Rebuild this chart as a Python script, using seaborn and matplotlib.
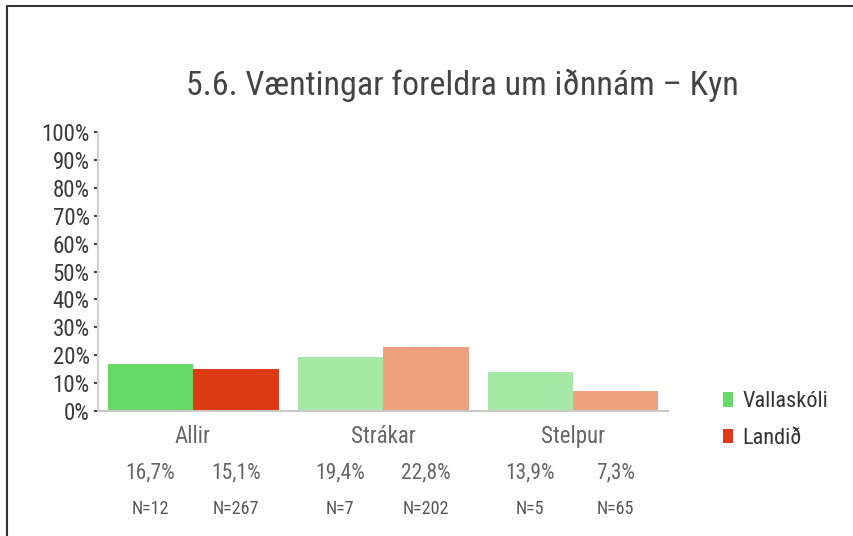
import numpy as np
import pandas as pd
import matplotlib
matplotlib.use('Agg')
import matplotlib.pyplot as plt
import seaborn as sns
from matplotlib.patches import Patch
from matplotlib.lines import Line2D

categories = ['Allir', 'Strákar', 'Stelpur']
series = ['Vallaskóli', 'Landið']
vallaskoli = [16.7, 19.4, 13.9]
landid = [15.1, 22.8, 7.3]
n_vallaskoli = [12, 7, 5]
n_landid = [267, 202, 65]
yticks = list(range(0, 101, 10))

# Allir is drawn strong, the two sub groups light
colors_v = ['#66d966', '#a6e9a6', '#a6e9a6']
colors_l = ['#de3a13', '#efa07c', '#efa07c']

sns.set_theme(style='white')
plt.rcParams['font.family'] = ['Roboto Condensed', 'DejaVu Sans']
plt.rcParams['font.weight'] = 'normal'

df = pd.DataFrame({
    'hopur': categories * 2,
    'rod': [series[0]] * 3 + [series[1]] * 3,
    'gildi': vallaskoli + landid,
})

fig = plt.figure(figsize=(8.54, 5.36), dpi=100)
fig.patch.set_facecolor('white')
ax = fig.add_axes([0.1148, 0.2332, 0.6674, 0.5205])

sns.barplot(data=df, x='hopur', y='gildi', hue='rod', hue_order=series,
            order=categories, palette=[colors_v[0], colors_l[0]],
            width=0.9, saturation=1, legend=False, ax=ax)

bars_v = ax.patches[:3]
bars_l = ax.patches[3:6]
for p, c in zip(bars_v, colors_v):
    p.set_facecolor(c)
    p.set_edgecolor('none')
for p, c in zip(bars_l, colors_l):
    p.set_facecolor(c)
    p.set_edgecolor('none')

ax.set_xlim(-0.5, 2.5)
ax.set_ylim(0, 100)
ax.set_yticks(yticks)
ax.set_yticklabels([f'{t}%' for t in yticks], fontsize=16.5, color='#3a3a3a')
ax.set_xlabel('')
ax.set_ylabel('')
ax.tick_params(axis='y', length=3, width=1.5, color='#444444', pad=3, left=True)
ax.tick_params(axis='x', length=0, pad=10, labelsize=16.5, labelcolor='#666666')
for s in ['top', 'right']:
    ax.spines[s].set_visible(False)
ax.spines['left'].set_color('#d0d0d0')
ax.spines['left'].set_linewidth(1.5)
ax.spines['bottom'].set_color('#c8c8c8')
ax.spines['bottom'].set_linewidth(1.5)

# percentages and N under each bar
for bars, vals, ns in [(bars_v, vallaskoli, n_vallaskoli), (bars_l, landid, n_landid)]:
    for p, v, n in zip(bars, vals, ns):
        xc = p.get_x() + p.get_width() / 2
        ax.annotate(f'{v:.1f}%'.replace('.', ','), (xc, -0.221),
                    xycoords=('data', 'axes fraction'), ha='center', va='center',
                    fontsize=15.5, color='#666666', annotation_clip=False)
        ax.annotate(f'N={n}', (xc, -0.35),
                    xycoords=('data', 'axes fraction'), ha='center', va='center',
                    fontsize=13, color='#555555', annotation_clip=False)

fig.text(0.542, 0.841, '5.6. Væntingar foreldra um iðnnám – Kyn',
         ha='center', va='center', fontsize=24.5, color='#444444')

handles = [Patch(facecolor=colors_v[0], edgecolor='none'),
           Patch(facecolor=colors_l[0], edgecolor='none')]
fig.legend(handles, series, loc='upper left', bbox_to_anchor=(0.847, 0.27),
           frameon=False, fontsize=16, handlelength=0.45, handleheight=0.6,
           handletextpad=0.4, labelspacing=0.7, borderpad=0, borderaxespad=0,
           labelcolor='#333333')

# the frame of the screenshot
fig.add_artist(Line2D([0.008, 1.0], [0.989, 0.989], transform=fig.transFigure,
                      color='#333333', lw=1.5))
fig.add_artist(Line2D([0.008, 0.008], [0.0, 0.989], transform=fig.transFigure,
                      color='#333333', lw=1.5))

fig.savefig('out.png', dpi=100)
